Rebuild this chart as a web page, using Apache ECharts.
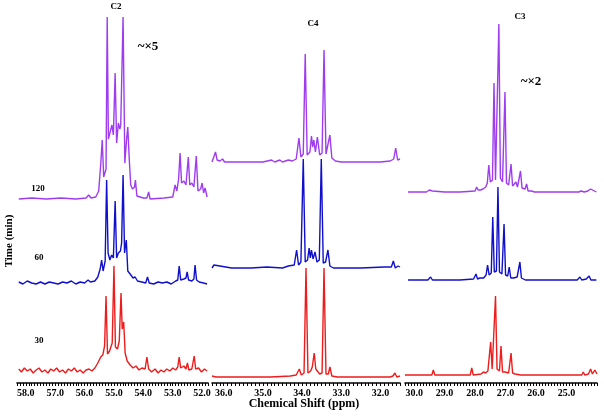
<!DOCTYPE html>
<html>
<head>
<meta charset="utf-8">
<script src="https://cdn.jsdelivr.net/npm/echarts@6/dist/echarts.min.js"></script>
<style>
  html, body { margin: 0; padding: 0; background: #fff; }
  #chart { width: 604px; height: 416px; }
</style>
</head>
<body>
<div id="chart"></div>
<script>
// spectra as [ppm, intensity] (intensity in arbitrary units above each baseline)
var panelTitles = ["C2", "C4", "C3"];
var timeLabels = ["120", "60", "30"];
var ppmRanges = [[51.8, 58.3], [31.5, 36.3], [24.0, 30.3]];

// C2, 120 / 60 / 30 min
var c2_120 = [[58.24,0],[57.8,1],[57.3,0],[56.8,1],[56.3,0],[55.95,1],[55.86,4],[55.78,1],[55.62,2],[55.52,8],[55.45,35],[55.40,59],[55.35,22],[55.27,30],[55.23,182],[55.19,60],[55.14,59],[55.07,74],[55.02,64],[54.96,126],[54.91,56],[54.85,76],[54.80,70],[54.77,74],[54.69,182],[54.63,36],[54.57,60],[54.53,72],[54.48,40],[54.43,14],[54.37,10],[54.30,12],[54.27,19],[54.22,3],[54.0,1],[53.88,1],[53.82,7],[53.77,0],[53.3,1],[53.0,2],[52.92,14],[52.86,8],[52.80,20],[52.75,46],[52.70,16],[52.62,18],[52.55,14],[52.47,42],[52.42,14],[52.35,16],[52.28,12],[52.20,43],[52.14,8],[52.05,10],[52.0,16],[51.95,6],[51.9,11],[51.83,2]];
var c2_60 = [[58.24,1],[58.1,-1],[57.95,2],[57.8,0],[57.65,-1],[57.5,1],[57.35,-1],[57.2,1],[57.05,0],[56.9,-1],[56.75,1],[56.6,0],[56.45,2],[56.3,-1],[56.15,1],[56.0,0],[55.88,3],[55.8,1],[55.65,2],[55.55,6],[55.47,14],[55.42,23],[55.37,12],[55.30,22],[55.25,103],[55.20,30],[55.14,23],[55.08,28],[55.02,25],[54.96,82],[54.91,25],[54.85,30],[54.78,32],[54.74,40],[54.69,108],[54.64,30],[54.58,43],[54.53,12],[54.45,9],[54.35,5],[54.28,6],[54.2,2],[54.05,1],[53.92,0],[53.86,6],[53.8,0],[53.65,-1],[53.5,1],[53.35,0],[53.2,1],[53.05,-1],[52.9,2],[52.83,3],[52.78,17],[52.73,3],[52.62,4],[52.55,5],[52.51,11],[52.46,3],[52.35,2],[52.28,4],[52.24,18],[52.19,3],[52.1,1],[51.95,0],[51.83,-1]];
var c2_30 = [[58.24,2],[58.15,-1],[58.05,3],[57.95,0],[57.85,2],[57.75,-2],[57.65,1],[57.55,3],[57.45,-1],[57.35,1],[57.25,-2],[57.15,2],[57.05,0],[56.95,3],[56.85,-1],[56.75,1],[56.65,-2],[56.55,2],[56.45,0],[56.35,3],[56.25,-1],[56.15,1],[56.05,-2],[55.95,1],[55.85,2],[55.75,0],[55.65,3],[55.55,8],[55.45,14],[55.38,16],[55.32,25],[55.27,75],[55.22,17],[55.15,20],[55.06,28],[55.0,105],[54.95,24],[54.88,22],[54.82,30],[54.76,78],[54.72,42],[54.67,49],[54.62,18],[54.55,10],[54.45,6],[54.35,3],[54.25,5],[54.15,1],[54.05,3],[53.94,2],[53.88,14],[53.82,2],[53.72,-1],[53.6,2],[53.5,-2],[53.4,1],[53.3,-1],[53.2,2],[53.1,0],[53.0,3],[52.9,1],[52.83,4],[52.78,14],[52.73,3],[52.62,5],[52.55,2],[52.5,8],[52.45,1],[52.35,2],[52.27,15],[52.22,2],[52.12,3],[52.02,-1],[51.92,2],[51.83,0]];

// C4
var c4_120 = [[36.3,0],[36.25,2],[36.21,10],[36.17,2],[36.1,1],[36.03,3],[35.98,0],[35.5,0],[35.0,0],[34.78,2],[34.7,0],[34.57,2],[34.5,0],[34.35,2],[34.25,1],[34.15,3],[34.08,24],[34.03,5],[33.97,8],[33.92,108],[33.87,7],[33.80,10],[33.76,26],[33.73,15],[33.70,22],[33.66,10],[33.61,25],[33.55,7],[33.49,9],[33.44,112],[33.39,8],[33.34,10],[33.29,27],[33.24,4],[33.15,1],[33.0,0],[32.5,0],[32.0,0],[31.75,1],[31.66,3],[31.61,14],[31.56,2],[31.5,3]];
var c4_60 = [[36.3,0],[36.25,3],[36.2,1],[35.8,0],[35.3,0],[34.9,1],[34.5,0],[34.35,2],[34.2,3],[34.14,18],[34.09,3],[34.03,6],[33.97,109],[33.92,6],[33.86,8],[33.82,20],[33.79,10],[33.76,18],[33.72,9],[33.67,16],[33.62,6],[33.56,8],[33.51,109],[33.46,5],[33.40,6],[33.34,18],[33.29,2],[33.2,0],[32.5,0],[31.9,1],[31.72,1],[31.67,7],[31.62,0],[31.55,2],[31.5,1]];
var c4_30 = [[36.3,1],[36.2,0],[35.5,0],[34.8,0],[34.3,1],[34.15,2],[34.07,8],[34.02,2],[33.95,4],[33.90,109],[33.85,4],[33.78,6],[33.74,10],[33.69,24],[33.65,8],[33.60,10],[33.55,3],[33.49,4],[33.44,109],[33.39,3],[33.33,3],[33.29,10],[33.24,1],[33.1,0],[32.5,0],[31.75,0],[31.68,1],[31.63,4],[31.58,0],[31.5,1]];

// C3
var c3_120 = [[30.2,0],[30.0,0],[29.94,1],[29.85,0],[29.6,0],[29.5,2],[29.46,3],[29.4,1],[29.0,0],[28.5,0],[28.0,1],[27.95,5],[27.9,2],[27.82,2],[27.79,3],[27.74,3],[27.65,5],[27.60,9],[27.55,27],[27.50,10],[27.43,12],[27.38,109],[27.33,12],[27.27,14],[27.22,168],[27.17,14],[27.10,10],[27.02,100],[26.97,9],[26.90,7],[26.82,28],[26.77,6],[26.71,6],[26.66,10],[26.61,5],[26.56,7],[26.51,21],[26.46,4],[26.36,3],[26.31,8],[26.26,1],[26.15,1],[26.11,2],[26.05,0],[25.5,0],[25.0,0],[24.6,0],[24.52,1],[24.47,2],[24.42,0],[24.3,1],[24.21,3],[24.15,1],[24.02,0]];
var c3_60 = [[30.2,0],[30.0,0],[29.94,2],[29.88,0],[29.55,0],[29.5,2],[29.46,3],[29.4,0],[28.5,0],[28.05,1],[27.97,6],[27.92,1],[27.85,2],[27.79,3],[27.72,2],[27.64,5],[27.59,15],[27.54,5],[27.47,7],[27.42,63],[27.37,8],[27.30,9],[27.25,93],[27.20,8],[27.12,6],[27.05,56],[27.00,5],[26.93,4],[26.88,13],[26.83,2],[26.74,2],[26.69,3],[26.62,3],[26.57,5],[26.53,18],[26.48,2],[26.35,0],[25.5,0],[25.0,0],[24.65,0],[24.56,3],[24.5,0],[24.35,1],[24.26,4],[24.2,0],[24.02,0]];
var c3_30 = [[30.3,0],[30.12,0],[30.08,2],[30.03,0],[29.9,0],[29.86,2],[29.8,0],[29.55,0],[29.5,1],[29.42,0],[29.37,5],[29.32,0],[29.0,0],[28.6,0],[28.16,0],[28.11,7],[28.06,0],[27.8,1],[27.73,3],[27.66,2],[27.58,4],[27.54,6],[27.49,33],[27.44,6],[27.38,8],[27.33,79],[27.28,6],[27.20,4],[27.15,29],[27.10,3],[27.01,3],[26.97,5],[26.90,2],[26.86,4],[26.82,22],[26.77,2],[26.69,1],[26.5,0],[26.0,0],[25.65,0],[25.6,1],[25.55,0],[25.0,0],[24.5,0],[24.45,3],[24.4,0],[24.28,1],[24.21,6],[24.15,1],[24.07,5],[24.0,1]];

var traces = [[c2_120, c2_60, c2_30], [c4_120, c4_60, c4_30], [c3_120, c3_60, c3_30]];

// layout: where each trace sits (stack offset) and where each panel goes
var baseLevels = [[184, 100, 12], [221, 115, 6], [191, 103, 8]];
var gridBoxes = [[17, 191], [212, 188], [405, 192]];
var colors = ["#a03cf0", "#1010cc", "#ee1c1c"];
var serif = "'Liberation Serif', 'DejaVu Serif', serif";

var chart = echarts.init(document.getElementById("chart"));

function tickLabel(lo) {
  return function (v) {
    // whole ppm only, and none at the very end of an axis
    if (Math.abs(v - lo) < 1e-4) return "";
    return Math.abs(v - Math.round(v)) < 1e-4 ? Math.round(v).toFixed(1) : "";
  };
}

var grids = [], xAxes = [], yAxes = [], series = [];
for (var p = 0; p < 3; p++) {
  grids.push({ left: gridBoxes[p][0], width: gridBoxes[p][1], top: 0, bottom: 33 });
  xAxes.push({
    gridIndex: p,
    type: "value",
    inverse: true,
    min: ppmRanges[p][0],
    max: ppmRanges[p][1],
    interval: 0.1,
    axisLine: { lineStyle: { color: "#000", width: 1.6 } },
    axisTick: { length: 3, lineStyle: { color: "#000", width: 1 } },
    splitLine: { show: false },
    axisLabel: {
      interval: 0,
      margin: 5,
      color: "#000",
      fontFamily: serif,
      fontWeight: "bold",
      fontSize: 10,
      formatter: tickLabel(ppmRanges[p][0])
    }
  });
  yAxes.push({ gridIndex: p, type: "value", min: 0, max: 383, show: false });
  for (var t = 0; t < 3; t++) {
    var off = baseLevels[p][t];
    series.push({
      type: "line",
      xAxisIndex: p,
      yAxisIndex: p,
      showSymbol: false,
      silent: true,
      lineStyle: { color: colors[t], width: 1.4 },
      data: traces[p][t].map(function (d) { return [d[0], d[1] + off]; })
    });
  }
}

function label(text, x, y, size, rot) {
  return {
    type: "text", x: x, y: y, rotation: rot || 0,
    style: { text: text, font: "bold " + size + "px " + serif, fill: "#000", align: "center", verticalAlign: "middle" }
  };
}

chart.setOption({
  animation: false,
  grid: grids,
  xAxis: xAxes,
  yAxis: yAxes,
  series: series,
  graphic: [
    label(panelTitles[0], 116, 7, 9),
    label(panelTitles[1], 313, 24, 9),
    label(panelTitles[2], 520, 17, 9),
    label("~×5", 148, 47, 13),
    label("~×2", 531, 82, 13),
    label(timeLabels[0], 38, 189, 9),
    label(timeLabels[1], 39, 258, 9),
    label(timeLabels[2], 39, 341, 9),
    label("Time (min)", 9, 241, 11, Math.PI / 2),
    label("Chemical Shift (ppm)", 304, 404, 12)
  ]
});
</script>
</body>
</html>
